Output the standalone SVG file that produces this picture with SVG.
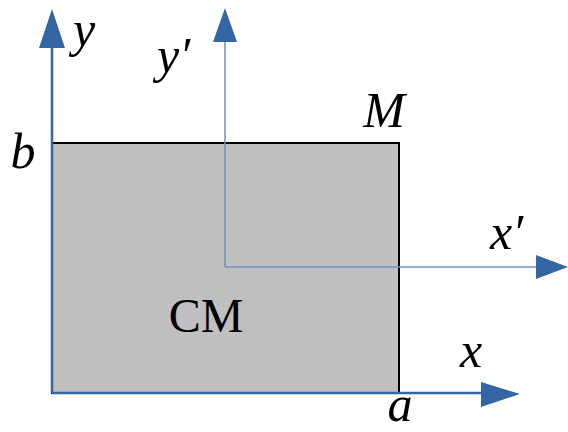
<svg xmlns="http://www.w3.org/2000/svg" width="568" height="432" viewBox="0 0 568 432">
<style>
.lbl{font-family:"Liberation Serif","Times New Roman",serif;font-style:italic;font-size:50px;fill:#000}
.up{font-family:"Liberation Serif","Times New Roman",serif;font-size:48px;fill:#000}
.ax{stroke:#3465a4;stroke-width:2.5;fill:none}
.ax2{stroke:#6f93c4;stroke-width:1.5;fill:none}
.head{fill:#3465a4}
</style>
<g id="body">
<rect x="52" y="143" width="347" height="250" fill="#c0c0c0" stroke="#000" stroke-width="2"/>
<text class="up" x="206" y="332" text-anchor="middle">CM</text>
<text class="lbl" x="384" y="127" text-anchor="middle">M</text>
</g>
<g id="connectors">
<line class="ax" x1="52" y1="393" x2="52" y2="45"/>
<polygon class="head" points="52,9 39,48 65,48"/>
<line class="ax" x1="52" y1="393" x2="484" y2="393"/>
<polygon class="head" points="520,394 481,382 481,407"/>
<line class="ax2" x1="225" y1="267" x2="225" y2="40"/>
<polygon class="head" points="225,8 213,42 237,42"/>
<line class="ax2" x1="225" y1="267" x2="540" y2="267"/>
<polygon class="head" points="568,267 536,255 536,279"/>
</g>
<g id="labels">
<text class="lbl" x="84" y="46" text-anchor="middle">y</text>
<text class="lbl" x="157" y="72">y′</text>
<text class="lbl" x="23" y="168" text-anchor="middle">b</text>
<text class="lbl" x="490" y="249">x′</text>
<text class="lbl" x="471" y="367" text-anchor="middle">x</text>
<text class="lbl" x="400" y="421" text-anchor="middle">a</text>
</g>
</svg>
